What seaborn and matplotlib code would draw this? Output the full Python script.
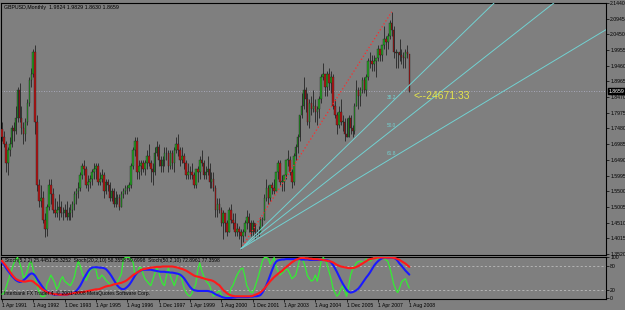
import numpy as np
import matplotlib
matplotlib.use("Agg")
import matplotlib.pyplot as plt
import matplotlib.transforms as mtransforms
import seaborn as sns

# ---------------- data: GBPUSD monthly, Apr 1991 .. Aug 2008 ----------------
open_ = [
    1.745, 1.72, 1.70, 1.64, 1.68, 1.70, 1.75, 1.74, 1.78,                      # 1991
    1.87, 1.78, 1.75, 1.73, 1.77, 1.83, 1.90, 1.92, 1.99, 1.77, 1.57, 1.52,     # 1992
    1.53, 1.46, 1.43, 1.50, 1.57, 1.54, 1.49, 1.48, 1.49, 1.50, 1.48, 1.48,     # 1993
    1.49, 1.47, 1.48, 1.49, 1.51, 1.54, 1.55, 1.56, 1.60, 1.63, 1.62, 1.57,     # 1994
    1.58, 1.59, 1.61, 1.62, 1.63, 1.58, 1.59, 1.60, 1.55, 1.58, 1.57, 1.53,     # 1995
    1.55, 1.51, 1.53, 1.53, 1.50, 1.54, 1.55, 1.56, 1.56, 1.57, 1.63, 1.68,     # 1996
    1.71, 1.61, 1.63, 1.64, 1.62, 1.64, 1.66, 1.64, 1.62, 1.61, 1.67, 1.69,     # 1997
    1.65, 1.63, 1.65, 1.67, 1.67, 1.63, 1.67, 1.64, 1.68, 1.70, 1.68, 1.65,     # 1998
    1.66, 1.64, 1.60, 1.61, 1.61, 1.60, 1.57, 1.62, 1.61, 1.65, 1.64, 1.60,     # 1999
    1.61, 1.62, 1.58, 1.59, 1.56, 1.49, 1.51, 1.49, 1.45, 1.48, 1.45, 1.42,     # 2000
    1.49, 1.46, 1.45, 1.42, 1.43, 1.42, 1.41, 1.42, 1.45, 1.47, 1.45, 1.42,     # 2001
    1.45, 1.42, 1.42, 1.42, 1.46, 1.46, 1.53, 1.56, 1.53, 1.57, 1.56, 1.55,     # 2002
    1.61, 1.64, 1.58, 1.58, 1.60, 1.65, 1.65, 1.61, 1.58, 1.66, 1.69, 1.72,     # 2003
    1.79, 1.82, 1.87, 1.84, 1.77, 1.83, 1.81, 1.82, 1.80, 1.81, 1.84, 1.91,     # 2004
    1.92, 1.88, 1.92, 1.89, 1.91, 1.82, 1.79, 1.76, 1.80, 1.77, 1.77, 1.73,     # 2005
    1.72, 1.78, 1.75, 1.74, 1.82, 1.87, 1.85, 1.87, 1.90, 1.87, 1.91, 1.96,     # 2006
    1.96, 1.95, 1.96, 1.97, 2.00, 1.98, 2.01, 2.03, 2.02, 2.04, 2.08, 2.06,     # 2007
    1.99, 1.985, 1.99, 1.98, 1.975, 1.97, 1.99, 1.9824,                         # 2008
]
high_ = [
    1.77, 1.74, 1.71, 1.69, 1.72, 1.76, 1.77, 1.82, 1.88,
    1.89, 1.82, 1.77, 1.78, 1.84, 1.91, 1.94, 2.00, 2.01, 1.79, 1.59, 1.57,
    1.55, 1.48, 1.51, 1.59, 1.59, 1.56, 1.53, 1.52, 1.54, 1.52, 1.50, 1.51,
    1.52, 1.50, 1.51, 1.52, 1.55, 1.56, 1.58, 1.61, 1.64, 1.65, 1.63, 1.60,
    1.60, 1.62, 1.64, 1.64, 1.64, 1.61, 1.62, 1.61, 1.59, 1.59, 1.58, 1.56,
    1.56, 1.55, 1.54, 1.54, 1.55, 1.56, 1.57, 1.57, 1.58, 1.64, 1.69, 1.72,
    1.72, 1.65, 1.65, 1.65, 1.65, 1.68, 1.70, 1.65, 1.64, 1.69, 1.71, 1.70,
    1.66, 1.66, 1.69, 1.69, 1.68, 1.68, 1.68, 1.69, 1.72, 1.73, 1.69, 1.69,
    1.67, 1.65, 1.64, 1.63, 1.64, 1.61, 1.62, 1.63, 1.66, 1.68, 1.65, 1.63,
    1.66, 1.64, 1.61, 1.61, 1.57, 1.53, 1.53, 1.50, 1.49, 1.48, 1.46, 1.50,
    1.51, 1.48, 1.48, 1.45, 1.44, 1.43, 1.43, 1.46, 1.49, 1.48, 1.46, 1.46,
    1.45, 1.43, 1.44, 1.47, 1.47, 1.54, 1.59, 1.57, 1.57, 1.58, 1.59, 1.61,
    1.65, 1.65, 1.60, 1.60, 1.65, 1.68, 1.66, 1.62, 1.67, 1.70, 1.73, 1.79,
    1.86, 1.91, 1.88, 1.86, 1.84, 1.85, 1.87, 1.84, 1.82, 1.85, 1.92, 1.955,
    1.92, 1.93, 1.94, 1.93, 1.92, 1.84, 1.80, 1.82, 1.84, 1.79, 1.78, 1.78,
    1.79, 1.79, 1.76, 1.83, 1.90, 1.88, 1.88, 1.91, 1.91, 1.92, 1.97, 1.99,
    1.98, 1.98, 1.97, 2.01, 2.00, 2.01, 2.07, 2.04, 2.05, 2.09, 2.1161, 2.07,
    2.00, 1.99, 2.03, 2.00, 1.99, 2.00, 2.01, 1.9829,
]
low_ = [
    1.71, 1.69, 1.61, 1.60, 1.66, 1.69, 1.71, 1.73, 1.77,
    1.77, 1.73, 1.70, 1.71, 1.76, 1.82, 1.88, 1.91, 1.73, 1.55, 1.50, 1.50,
    1.45, 1.405, 1.41, 1.49, 1.51, 1.48, 1.47, 1.47, 1.46, 1.47, 1.46, 1.47,
    1.46, 1.46, 1.46, 1.47, 1.49, 1.51, 1.53, 1.55, 1.59, 1.60, 1.56, 1.55,
    1.56, 1.57, 1.59, 1.59, 1.57, 1.57, 1.58, 1.53, 1.54, 1.55, 1.52, 1.52,
    1.50, 1.50, 1.51, 1.49, 1.50, 1.53, 1.54, 1.54, 1.55, 1.56, 1.62, 1.66,
    1.59, 1.59, 1.60, 1.61, 1.60, 1.62, 1.63, 1.58, 1.57, 1.60, 1.66, 1.63,
    1.61, 1.61, 1.63, 1.65, 1.61, 1.62, 1.62, 1.61, 1.67, 1.66, 1.63, 1.64,
    1.62, 1.59, 1.59, 1.59, 1.59, 1.56, 1.56, 1.58, 1.59, 1.63, 1.59, 1.59,
    1.60, 1.56, 1.56, 1.55, 1.47, 1.47, 1.48, 1.44, 1.40, 1.42, 1.41, 1.42,
    1.45, 1.43, 1.41, 1.41, 1.40, 1.3685, 1.39, 1.41, 1.43, 1.42, 1.41, 1.41,
    1.40, 1.41, 1.41, 1.42, 1.44, 1.46, 1.52, 1.51, 1.52, 1.54, 1.54, 1.55,
    1.59, 1.57, 1.55, 1.55, 1.59, 1.63, 1.60, 1.56, 1.57, 1.65, 1.67, 1.71,
    1.78, 1.81, 1.80, 1.76, 1.75, 1.79, 1.80, 1.77, 1.76, 1.78, 1.83, 1.90,
    1.85, 1.85, 1.87, 1.86, 1.81, 1.78, 1.73, 1.75, 1.76, 1.74, 1.71, 1.72,
    1.72, 1.73, 1.72, 1.73, 1.82, 1.81, 1.82, 1.86, 1.86, 1.85, 1.90, 1.94,
    1.93, 1.93, 1.91, 1.96, 1.96, 1.96, 2.00, 1.98, 2.00, 2.03, 2.04, 1.97,
    1.94, 1.94, 1.96, 1.95, 1.94, 1.94, 1.97, 1.8630,
]
close_ = [
    1.72, 1.70, 1.64, 1.68, 1.70, 1.75, 1.74, 1.78, 1.87,
    1.78, 1.75, 1.73, 1.77, 1.83, 1.90, 1.92, 1.99, 1.77, 1.57, 1.52, 1.53,
    1.46, 1.43, 1.50, 1.57, 1.54, 1.49, 1.48, 1.49, 1.50, 1.48, 1.48, 1.49,
    1.47, 1.48, 1.49, 1.51, 1.54, 1.55, 1.56, 1.60, 1.63, 1.62, 1.57, 1.58,
    1.59, 1.61, 1.62, 1.63, 1.58, 1.59, 1.60, 1.55, 1.58, 1.57, 1.53, 1.55,
    1.51, 1.53, 1.53, 1.50, 1.54, 1.55, 1.56, 1.56, 1.57, 1.63, 1.68, 1.71,
    1.61, 1.63, 1.64, 1.62, 1.64, 1.66, 1.64, 1.62, 1.61, 1.67, 1.69, 1.65,
    1.63, 1.65, 1.67, 1.67, 1.63, 1.67, 1.64, 1.68, 1.70, 1.68, 1.65, 1.66,
    1.64, 1.60, 1.61, 1.61, 1.60, 1.57, 1.62, 1.61, 1.65, 1.64, 1.60, 1.61,
    1.62, 1.58, 1.59, 1.56, 1.49, 1.51, 1.49, 1.45, 1.48, 1.45, 1.42, 1.49,
    1.46, 1.45, 1.42, 1.43, 1.42, 1.41, 1.42, 1.45, 1.47, 1.45, 1.42, 1.45,
    1.42, 1.42, 1.42, 1.46, 1.46, 1.53, 1.56, 1.53, 1.57, 1.56, 1.55, 1.61,
    1.64, 1.58, 1.58, 1.60, 1.65, 1.65, 1.61, 1.58, 1.66, 1.69, 1.72, 1.79,
    1.82, 1.87, 1.84, 1.77, 1.83, 1.81, 1.82, 1.80, 1.81, 1.84, 1.91, 1.92,
    1.88, 1.92, 1.89, 1.91, 1.82, 1.79, 1.76, 1.80, 1.77, 1.77, 1.73, 1.72,
    1.78, 1.75, 1.74, 1.82, 1.87, 1.85, 1.87, 1.90, 1.87, 1.91, 1.96, 1.96,
    1.95, 1.96, 1.97, 2.00, 1.98, 2.01, 2.03, 2.02, 2.04, 2.08, 2.06, 1.99,
    1.985, 1.99, 1.98, 1.975, 1.97, 1.99, 1.9824, 1.8659,
]

# Stochastic oscillators
stoch_fast = [   # Stoch(5,2,2), green
    10, 12, 25, 40, 55, 70, 85, 95, 100, 88,
    72, 50, 55, 68, 85, 90, 70, 50, 30, 15,
    5, 4, 6, 35, 45, 57, 48, 38, 22, 30,
    45, 53, 42, 38, 34, 31, 40, 52, 75, 91,
    80, 62, 50, 44, 55, 68, 72, 74, 70, 48,
    50, 57, 52, 45, 40, 35, 31, 34, 38, 40,
    50, 60, 95, 100, 100, 100, 95, 88, 55, 60,
    75, 76, 60, 48, 42, 36, 31, 45, 60, 74,
    65, 48, 36, 31, 55, 74, 55, 42, 31, 45,
    62, 60, 44, 25, 14, 8, 5, 12, 25, 35,
    70, 87, 68, 55, 44, 38, 32, 18, 5, 10,
    15, 18, 10, 0, 2, 4, 6, 25, 32, 45,
    57, 65, 72, 74, 55, 31, 22, 15, 14, 25,
    40, 55, 74, 92, 100, 100, 98, 83, 92, 100,
    76, 66, 57, 62, 66, 72, 70, 60, 48, 52,
    57, 75, 95, 100, 90, 74, 55, 48, 42, 45,
    57, 42, 65, 91, 100, 95, 83, 65, 48, 25,
    14, 5, 10, 22, 31, 18, 5, 30, 57, 70,
    78, 87, 90, 91, 89, 87, 96, 92, 91, 95,
    100, 98, 96, 98, 100, 99, 94, 91, 75, 57,
    35, 22, 14, 25, 40, 45, 48, 35, 25,
]
stoch_mid = [    # Stoch(20,2,10), blue
    88, 82, 75, 68, 62, 55, 50, 45, 42, 40,
    41, 44, 48, 53, 58, 61, 60, 55, 47, 40,
    33, 26, 20, 16, 14, 12, 10, 9, 9, 9,
    9, 9, 9, 9, 10, 11, 12, 14, 18, 24,
    31, 40, 50, 58, 66, 72, 75, 76, 76, 76,
    75, 75, 74, 72, 67, 61, 54, 46, 38, 31,
    26, 23, 22, 24, 28, 33, 40, 48, 56, 62,
    66, 68, 70, 70, 70, 70, 70, 69, 68, 67,
    66, 65, 65, 65, 64, 64, 63, 63, 62, 61,
    60, 58, 54, 49, 42, 35, 28, 23, 20, 19,
    18, 18, 18, 18, 18, 18, 17, 16, 13, 10,
    8, 6, 4, 2, 1, 1, 1, 1, 2, 2,
    3, 3, 3, 3, 3, 3, 3, 4, 4, 5,
    5, 6, 8, 14, 22, 32, 44, 57, 70, 82,
    90, 93, 94, 95, 95, 96, 96, 96, 96, 96,
    96, 96, 96, 95, 95, 95, 95, 94, 94, 94,
    94, 94, 94, 94, 94, 94, 93, 92, 88, 82,
    74, 65, 55, 45, 36, 28, 21, 16, 14, 15,
    17, 20, 24, 30, 37, 44, 51, 57, 64, 72,
    80, 86, 91, 95, 98, 100, 100, 100, 100, 100,
    99, 97, 92, 85, 80, 74, 68, 63, 58,
]
stoch_slow = [   # Stoch(50,2,10), red
    92, 86, 80, 73, 66, 59, 53, 48, 45, 43,
    42, 41, 41, 42, 43, 43, 41, 37, 33, 29,
    25, 21, 18, 15, 13, 12, 11, 10, 10, 9,
    9, 9, 9, 9, 10, 11, 12, 13, 14, 14,
    15, 15, 16, 17, 18, 19, 20, 21, 22, 22,
    23, 25, 27, 29, 30, 31, 32, 34, 35, 36,
    37, 38, 40, 42, 45, 49, 53, 57, 60, 63,
    66, 69, 71, 72, 73, 74, 75, 76, 76, 77,
    77, 77, 78, 78, 78, 78, 78, 78, 77, 76,
    75, 73, 72, 70, 68, 65, 62, 59, 56, 54,
    53, 52, 50, 49, 47, 46, 45, 44, 42, 39,
    35, 32, 26, 20, 16, 12, 9, 7, 6, 5,
    5, 5, 5, 5, 5, 5, 5, 5, 6, 8,
    10, 12, 15, 19, 24, 30, 36, 42, 47, 52,
    56, 60, 64, 67, 72, 76, 80, 84, 88, 91,
    94, 96, 98, 99, 99, 98, 98, 97, 97, 96,
    96, 96, 95, 95, 94, 93, 92, 91, 90, 88,
    85, 82, 80, 78, 77, 76, 75, 74, 74, 74,
    75, 77, 79, 82, 85, 88, 91, 94, 96, 97,
    98, 99, 100, 100, 100, 100, 100, 100, 100, 100,
    99, 98, 96, 94, 91, 88, 85, 81, 77,
]

tick_bars = [0, 16, 32, 48, 64, 80, 96, 112, 128, 144, 160, 176, 192, 208]
tick_labels = ["1 Apr 1991", "1 Aug 1992", "1 Dec 1993", "1 Apr 1995", "1 Aug 1996",
               "1 Dec 1997", "1 Apr 1999", "1 Aug 2000", "1 Dec 2001", "1 Apr 2003",
               "1 Aug 2004", "1 Dec 2005", "1 Apr 2007", "1 Aug 2008"]
price_ticks = [1.3520, 1.4015, 1.4510, 1.5005, 1.5500, 1.5995, 1.6490, 1.6985, 1.7480,
               1.7975, 1.8470, 1.8965, 1.9460, 1.9955, 2.0450, 2.0945, 2.1440]
fan_levels = [38.2, 50.0, 61.8]
stoch_ticks = [0, 20, 80, 100]

title_text = "GBPUSD,Monthly  1.9824 1.9829 1.8630 1.8659"
stoch_text = ("Stoch(5,2,2) 25.4451 25.3252  Stoch(20,2,10) 58.3558 59.6998  "
              "Stoch(50,2,10) 72.8961 77.3598")
footer_text = "Interbank FX Trader 4, \u00a9 2001-2008 MetaQuotes Software Corp."
timer_text = "<--24671:33"

# ---------------- styling ----------------
sns.set_theme(style="ticks")
plt.rcParams["font.family"] = ["Liberation Sans", "DejaVu Sans"]
BG = "#7f7f7f"
W, H = 625, 310

fig = plt.figure(figsize=(W / 100, H / 100), dpi=100, facecolor=BG)
ax = fig.add_axes([1 / W, 55 / H, 605 / W, 252 / H], facecolor=BG)
axs = fig.add_axes([1 / W, 11 / H, 605 / W, 42 / H], facecolor=BG)

o = np.array(open_); h = np.array(high_); l = np.array(low_); c = np.array(close_)
bars = np.arange(len(c))
up = c >= o

# candles
ax.vlines(bars, l, h, color="#1c1c1c", lw=0.55, zorder=2)
bottom = np.minimum(o, c)
height = np.maximum(np.abs(c - o), 0.002)
ax.bar(bars[up], height[up], bottom=bottom[up], width=0.78, color="#23a023",
       edgecolor="#1c1c1c", linewidth=0.25, zorder=3)
ax.bar(bars[~up], height[~up], bottom=bottom[~up], width=0.78, color="#b41414",
       edgecolor="#1c1c1c", linewidth=0.25, zorder=3)

# fibonacci fan from the low to the high
i_lo = int(np.argmin(l)); i_hi = int(np.argmax(h))
lo = l[i_lo]; hi = h[i_hi]
x_end = 330
sns.lineplot(x=[i_lo, i_hi], y=[lo, hi], ax=ax, color="#ff2a2a", lw=0.9,
             linestyle=(0, (1, 1.8)), zorder=4)
for lev in fan_levels:
    p2 = hi - lev / 100 * (hi - lo)
    slope = (p2 - lo) / (i_hi - i_lo)
    sns.lineplot(x=[i_lo, x_end], y=[lo, lo + slope * (x_end - i_lo)], ax=ax,
                 color="#72d2d2", lw=0.7, zorder=4)
    ax.text(i_hi - 2.3, p2 + 0.008, f"{lev:.1f}", fontsize=3.4, color="#72d2d2",
            ha="left", va="bottom", zorder=5)

# bid line and labels
ax.axhline(c[-1], color="#b4b4cc", lw=0.6, ls=(0, (1, 2)), zorder=1)
trans = mtransforms.blended_transform_factory(ax.transAxes, ax.transData)
ax.text(1.004, c[-1], f"{c[-1]:.4f}", transform=trans, fontsize=3.7, color="white",
        ha="left", va="center", zorder=6,
        bbox=dict(facecolor="black", edgecolor="black", pad=0.5))
ax.text(len(c) + 1.2, c[-1] - 0.016, timer_text, fontsize=7.5, color="#e6e64a",
        ha="left", va="center", zorder=6)
ax.text(3 / 605, 0.994, title_text, transform=ax.transAxes, fontsize=3.8,
        color="black", ha="left", va="top")

ax.set_xlim(-0.46, 308.4)
ax.set_ylim(1.3488, 2.1439)
ax.yaxis.tick_right()
ax.set_yticks(price_ticks)
ax.set_yticklabels([f"{v:.4f}" for v in price_ticks])
ax.tick_params(axis="y", length=2, width=0.5, pad=1, labelsize=3.7, colors="black")
ax.set_xticks([])
ax.set_xlabel(""); ax.set_ylabel("")
for sp in ax.spines.values():
    sp.set_color("black"); sp.set_linewidth(0.8); sp.set_visible(True)

# ---------------- stochastic panel ----------------
axs.axhline(80, color="#c8c8c8", lw=0.5, ls=(0, (3, 3)), zorder=1)
axs.axhline(20, color="#c8c8c8", lw=0.5, ls=(0, (3, 3)), zorder=1)
sns.lineplot(x=bars, y=stoch_fast, ax=axs, color="#33ee33", lw=0.9, zorder=3)
sns.lineplot(x=bars, y=stoch_mid, ax=axs, color="#1a1aff", lw=1.5, zorder=4)
sns.lineplot(x=bars, y=stoch_slow, ax=axs, color="#ff1a1a", lw=1.5, zorder=5)
axs.text(4 / 605, 0.905, stoch_text, transform=axs.transAxes, fontsize=3.6,
         color="black", ha="left", va="center", zorder=6)
axs.text(3 / 605, 0.14, footer_text, transform=axs.transAxes, fontsize=3.6,
         color="black", ha="left", va="center", zorder=6)

axs.set_xlim(-0.46, 308.4)
axs.set_ylim(-1.7, 101.2)
axs.yaxis.tick_right()
axs.set_yticks(stoch_ticks)
axs.set_yticklabels([str(v) for v in stoch_ticks])
axs.tick_params(axis="y", length=2, width=0.5, pad=1, labelsize=3.7, colors="black")
axs.set_xticks(tick_bars)
axs.set_xticklabels(tick_labels)
axs.tick_params(axis="x", length=2, width=0.5, pad=1.2, labelsize=3.7, colors="black")
for lbl in axs.get_xticklabels():
    lbl.set_horizontalalignment("left")
axs.set_xlabel(""); axs.set_ylabel("")
for sp in axs.spines.values():
    sp.set_color("black"); sp.set_linewidth(0.8); sp.set_visible(True)

fig.savefig("out.png", dpi=100, facecolor=BG)
